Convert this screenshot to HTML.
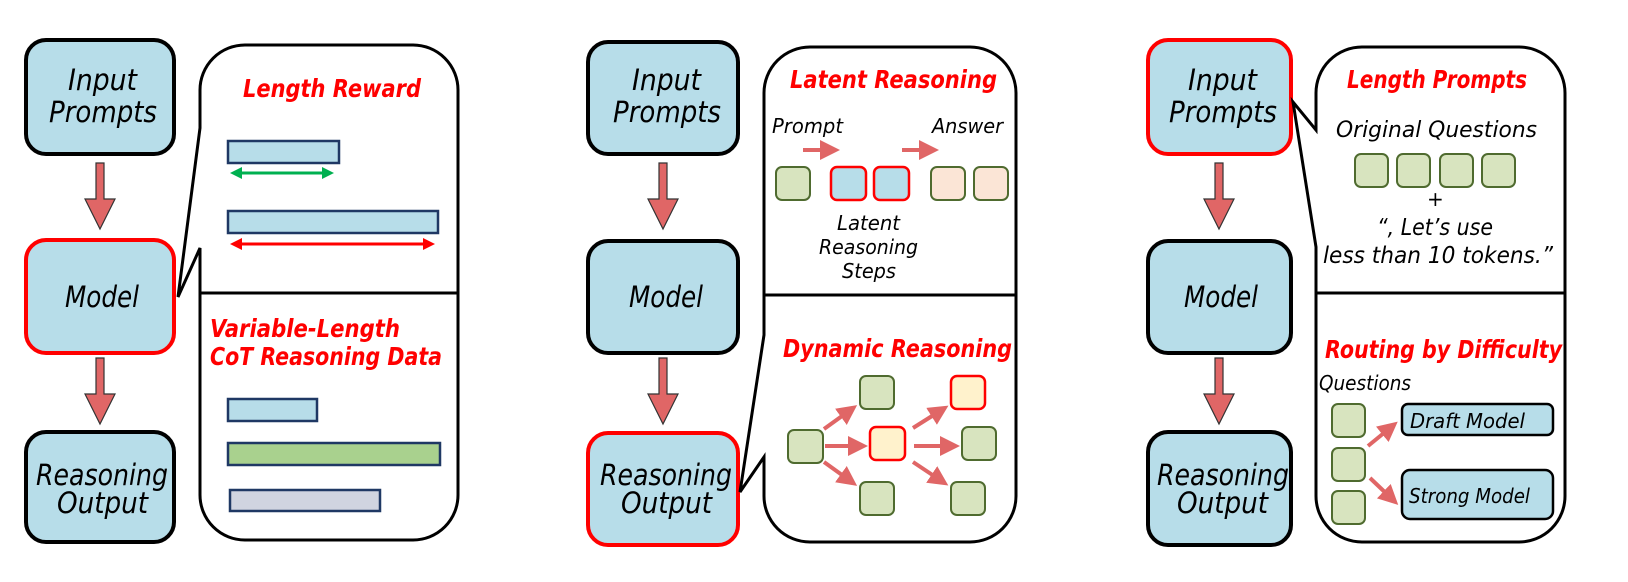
<!DOCTYPE html>
<html><head><meta charset="utf-8"><style>
html,body{margin:0;padding:0;background:#fff;}
svg{display:block;}
text{font-family:"DejaVu Sans","Liberation Sans",sans-serif;font-style:italic;}
.t{fill:#f00;font-weight:bold;font-size:25px;}
.b{fill:#000;font-size:29px;}
.s{fill:#000;font-size:20px;}
.box{fill:#b7dde9;stroke:#000;stroke-width:4;}
.rbox{fill:#b7dde9;stroke:#f00;stroke-width:4;}
.co{fill:#fff;stroke:#000;stroke-width:3;}
.g{fill:#d8e4bf;stroke:#4f6b2f;stroke-width:2;}
.p{fill:#fbe5d6;stroke:#4f6b2f;stroke-width:2;}
.br{fill:#b7dde9;stroke:#f00;stroke-width:2.5;}
.cr{fill:#fff2cc;stroke:#f00;stroke-width:2.5;}
.bar{stroke:#1f3864;stroke-width:2.5;}
.ar{stroke:#e06666;stroke-width:4;marker-end:url(#ah);}
.big{fill:#e06666;stroke:#333;stroke-width:1.2;}
</style></head><body>
<svg width="1628" height="582" viewBox="0 0 1628 582" xmlns="http://www.w3.org/2000/svg">
<defs>
<marker id="ah" markerWidth="5" markerHeight="5" refX="2.5" refY="2.5" orient="auto" markerUnits="strokeWidth"><path d="M0,0 L5,2.5 L0,5 Z" fill="#e06666"/></marker>
<marker id="gh" markerWidth="4" markerHeight="4" refX="3" refY="2" orient="auto-start-reverse" markerUnits="strokeWidth"><path d="M0,0 L4,2 L0,4 Z" fill="#00b050"/></marker>
<marker id="rh" markerWidth="4" markerHeight="4" refX="3" refY="2" orient="auto-start-reverse" markerUnits="strokeWidth"><path d="M0,0 L4,2 L0,4 Z" fill="#f00"/></marker>
<path id="bigarrow" d="M-4,0 H4 V36 H15 L0,66 L-15,36 H-4 Z"/>
</defs>

<!-- ========== Panel 1 ========== -->
<rect class="box" x="26" y="40" width="148" height="114" rx="20"/>
<text class="b" x="68" y="90" textLength="69" lengthAdjust="spacingAndGlyphs">Input</text>
<text class="b" x="49" y="122" textLength="108" lengthAdjust="spacingAndGlyphs">Prompts</text>
<rect class="rbox" x="26" y="240" width="148" height="113" rx="20"/>
<text class="b" x="65" y="307" textLength="74" lengthAdjust="spacingAndGlyphs">Model</text>
<rect class="box" x="26" y="432" width="148" height="110" rx="20"/>
<text class="b" x="36" y="485" textLength="132" lengthAdjust="spacingAndGlyphs">Reasoning</text>
<text class="b" x="57" y="513" textLength="91" lengthAdjust="spacingAndGlyphs">Output</text>
<use href="#bigarrow" class="big" x="100" y="163"/>
<use href="#bigarrow" class="big" x="100" y="358"/>

<path class="co" d="M245,45 H413 A45,45 0 0 1 458,90 V495 A45,45 0 0 1 413,540 H245 A45,45 0 0 1 200,495 V248 L178,297 L200,128 V90 A45,45 0 0 1 245,45 Z"/>
<line x1="200" y1="293" x2="458" y2="293" stroke="#000" stroke-width="3"/>
<text class="t" x="243" y="97" textLength="178" lengthAdjust="spacingAndGlyphs">Length Reward</text>
<rect class="bar" x="228" y="141" width="111" height="22" fill="#b7dde9"/>
<line x1="233" y1="173" x2="331" y2="173" stroke="#00b050" stroke-width="3" marker-start="url(#gh)" marker-end="url(#gh)"/>
<rect class="bar" x="228" y="211" width="210" height="22" fill="#b7dde9"/>
<line x1="233" y1="244" x2="432" y2="244" stroke="#f00" stroke-width="3" marker-start="url(#rh)" marker-end="url(#rh)"/>
<text class="t" x="210" y="337" textLength="190" lengthAdjust="spacingAndGlyphs">Variable-Length</text>
<text class="t" x="210" y="365" textLength="232" lengthAdjust="spacingAndGlyphs">CoT Reasoning Data</text>
<rect class="bar" x="228" y="399" width="89" height="22" fill="#b7dde9"/>
<rect class="bar" x="228" y="443" width="212" height="22" fill="#a9d18e"/>
<rect class="bar" x="230" y="490" width="150" height="21" fill="#d0d4e0"/>

<!-- ========== Panel 2 ========== -->
<rect class="box" x="588" y="42" width="150" height="112" rx="20"/>
<text class="b" x="632" y="90" textLength="69" lengthAdjust="spacingAndGlyphs">Input</text>
<text class="b" x="613" y="122" textLength="108" lengthAdjust="spacingAndGlyphs">Prompts</text>
<rect class="box" x="588" y="241" width="150" height="112" rx="20"/>
<text class="b" x="629" y="307" textLength="74" lengthAdjust="spacingAndGlyphs">Model</text>
<rect class="rbox" x="588" y="433" width="150" height="112" rx="20"/>
<text class="b" x="600" y="485" textLength="132" lengthAdjust="spacingAndGlyphs">Reasoning</text>
<text class="b" x="621" y="513" textLength="91" lengthAdjust="spacingAndGlyphs">Output</text>
<use href="#bigarrow" class="big" x="663" y="163"/>
<use href="#bigarrow" class="big" x="663" y="358"/>

<path class="co" d="M810,47 H970 A46,46 0 0 1 1016,93 V496 A46,46 0 0 1 970,542 H810 A46,46 0 0 1 764,496 V457 L740,492 L764,335 V93 A46,46 0 0 1 810,47 Z"/>
<line x1="764" y1="295" x2="1016" y2="295" stroke="#000" stroke-width="3"/>
<text class="t" x="790" y="88" textLength="207" lengthAdjust="spacingAndGlyphs">Latent Reasoning</text>
<text class="s" x="772" y="133" textLength="71" lengthAdjust="spacingAndGlyphs">Prompt</text>
<text class="s" x="932" y="133" textLength="71" lengthAdjust="spacingAndGlyphs">Answer</text>
<line class="ar" x1="803" y1="150" x2="830" y2="150"/>
<line class="ar" x1="902" y1="150" x2="929" y2="150"/>
<rect class="g" x="776" y="167" width="34" height="33" rx="6"/>
<rect class="br" x="831" y="167" width="35" height="33" rx="6"/>
<rect class="br" x="874" y="167" width="35" height="33" rx="6"/>
<rect class="p" x="931" y="167" width="34" height="33" rx="6"/>
<rect class="p" x="974" y="167" width="34" height="33" rx="6"/>
<text class="s" x="837" y="230" textLength="63" lengthAdjust="spacingAndGlyphs">Latent</text>
<text class="s" x="819" y="254" textLength="99" lengthAdjust="spacingAndGlyphs">Reasoning</text>
<text class="s" x="842" y="278" textLength="54" lengthAdjust="spacingAndGlyphs">Steps</text>
<text class="t" x="783" y="357" textLength="229" lengthAdjust="spacingAndGlyphs">Dynamic Reasoning</text>
<rect class="g" x="788" y="430" width="35" height="33" rx="6"/>
<rect class="g" x="860" y="376" width="34" height="33" rx="6"/>
<rect class="cr" x="870" y="427" width="35" height="33" rx="6"/>
<rect class="g" x="860" y="482" width="34" height="33" rx="6"/>
<rect class="cr" x="951" y="376" width="34" height="33" rx="6"/>
<rect class="g" x="962" y="427" width="34" height="33" rx="6"/>
<rect class="g" x="951" y="482" width="34" height="33" rx="6"/>
<line class="ar" x1="824" y1="429" x2="849" y2="411"/>
<line class="ar" x1="825" y1="446" x2="858" y2="446"/>
<line class="ar" x1="824" y1="462" x2="849" y2="480"/>
<line class="ar" x1="913" y1="428" x2="940" y2="411"/>
<line class="ar" x1="914" y1="446" x2="950" y2="446"/>
<line class="ar" x1="913" y1="462" x2="940" y2="480"/>

<!-- ========== Panel 3 ========== -->
<rect class="rbox" x="1148" y="40" width="143" height="114" rx="20"/>
<text class="b" x="1188" y="90" textLength="69" lengthAdjust="spacingAndGlyphs">Input</text>
<text class="b" x="1169" y="122" textLength="108" lengthAdjust="spacingAndGlyphs">Prompts</text>
<rect class="box" x="1148" y="241" width="143" height="112" rx="20"/>
<text class="b" x="1184" y="307" textLength="74" lengthAdjust="spacingAndGlyphs">Model</text>
<rect class="box" x="1148" y="432" width="143" height="113" rx="20"/>
<text class="b" x="1157" y="485" textLength="132" lengthAdjust="spacingAndGlyphs">Reasoning</text>
<text class="b" x="1177" y="513" textLength="91" lengthAdjust="spacingAndGlyphs">Output</text>
<use href="#bigarrow" class="big" x="1219" y="163"/>
<use href="#bigarrow" class="big" x="1219" y="358"/>

<path class="co" d="M1362,47 H1519 A46,46 0 0 1 1565,93 V496 A46,46 0 0 1 1519,542 H1362 A46,46 0 0 1 1316,496 V247 L1293,102 L1316,130 V93 A46,46 0 0 1 1362,47 Z"/>
<line x1="1316" y1="293" x2="1565" y2="293" stroke="#000" stroke-width="3"/>
<text class="t" x="1347" y="88" textLength="180" lengthAdjust="spacingAndGlyphs">Length Prompts</text>
<text class="s" style="font-size:22px" x="1336" y="137" textLength="201" lengthAdjust="spacingAndGlyphs">Original Questions</text>
<rect class="g" x="1355" y="154" width="33" height="33" rx="6"/>
<rect class="g" x="1397" y="154" width="33" height="33" rx="6"/>
<rect class="g" x="1440" y="154" width="33" height="33" rx="6"/>
<rect class="g" x="1482" y="154" width="33" height="33" rx="6"/>
<text class="s" x="1427" y="206" style="font-style:normal">+</text>
<text class="s" style="font-size:23px" x="1377" y="235" textLength="116" lengthAdjust="spacingAndGlyphs">“, Let’s use</text>
<text class="s" style="font-size:23px" x="1323" y="263" textLength="230" lengthAdjust="spacingAndGlyphs">less than 10 tokens.”</text>
<text class="t" x="1325" y="358" textLength="237" lengthAdjust="spacingAndGlyphs">Routing by Difficulty</text>
<text class="s" x="1319" y="390" textLength="92" lengthAdjust="spacingAndGlyphs">Questions</text>
<rect class="g" x="1332" y="404" width="33" height="33" rx="6"/>
<rect class="g" x="1332" y="448" width="33" height="33" rx="6"/>
<rect class="g" x="1332" y="491" width="33" height="33" rx="6"/>
<rect x="1402" y="404" width="151" height="31" rx="6" fill="#b7dde9" stroke="#000" stroke-width="2.5"/>
<text class="s" x="1410" y="428" textLength="115" lengthAdjust="spacingAndGlyphs">Draft  Model</text>
<rect x="1402" y="470" width="151" height="49" rx="8" fill="#b7dde9" stroke="#000" stroke-width="2.5"/>
<text class="s" x="1409" y="503" textLength="121" lengthAdjust="spacingAndGlyphs">Strong Model</text>
<line class="ar" x1="1368" y1="446" x2="1390" y2="428"/>
<line class="ar" x1="1370" y1="478" x2="1391" y2="498"/>
</svg>
</body></html>
